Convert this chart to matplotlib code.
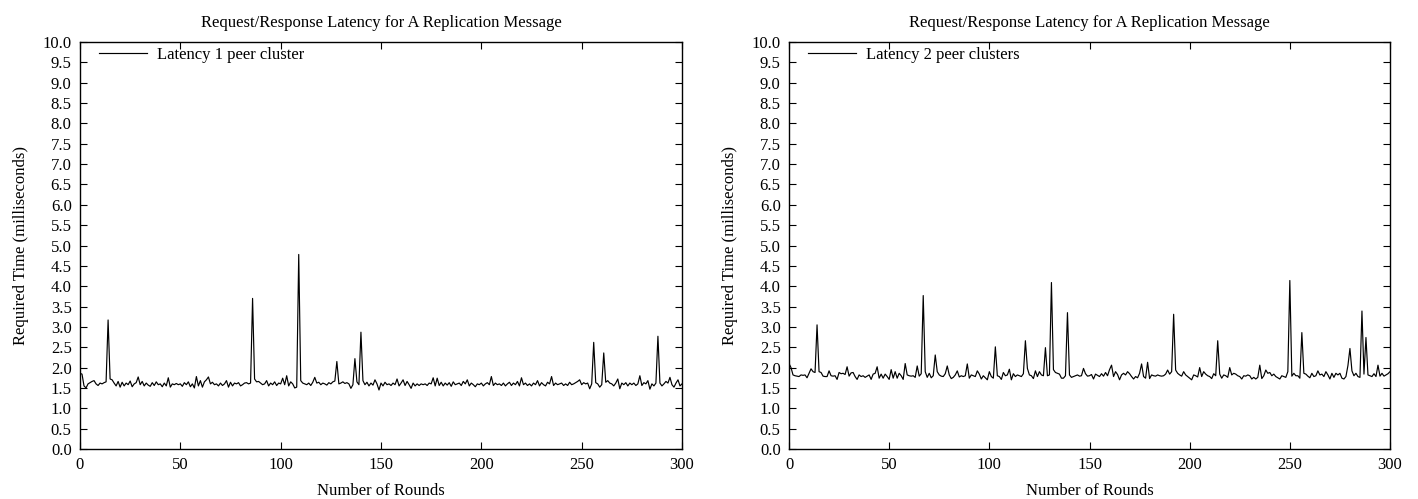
import numpy as np
import matplotlib
matplotlib.use("Agg")
import matplotlib.pyplot as plt

plt.rcParams['font.family'] = ['Liberation Serif', 'DejaVu Serif']
plt.rcParams['font.size'] = 12

title = "Request/Response Latency for A Replication Message"
xlabel = "Number of Rounds"
ylabel = "Required Time (milliseconds)"
label_1 = "Latency 1 peer cluster"
label_2 = "Latency 2 peer clusters"

# latency per round, 1 peer cluster (rounds 0..300)
lat_1 = [
    1.86, 1.84, 1.55, 1.50, 1.60, 1.63, 1.66, 1.68, 1.60, 1.56,
    1.62, 1.60, 1.63, 1.65, 3.17, 1.72, 1.70, 1.62, 1.55, 1.66,
    1.52, 1.64, 1.55, 1.62, 1.58, 1.67, 1.53, 1.60, 1.63, 1.77,
    1.58, 1.66, 1.55, 1.62, 1.57, 1.54, 1.63, 1.56, 1.65, 1.58,
    1.60, 1.53, 1.62, 1.55, 1.75, 1.52, 1.60, 1.58, 1.61, 1.58,
    1.60, 1.54, 1.63, 1.58, 1.65, 1.53, 1.60, 1.50, 1.78, 1.55,
    1.68, 1.52, 1.65, 1.70, 1.77, 1.60, 1.64, 1.58, 1.60, 1.55,
    1.62, 1.56, 1.60, 1.68, 1.52, 1.64, 1.55, 1.62, 1.60, 1.63,
    1.55, 1.58, 1.62, 1.63, 1.60, 1.62, 3.70, 1.72, 1.65, 1.66,
    1.62, 1.58, 1.60, 1.68, 1.55, 1.62, 1.58, 1.65, 1.56, 1.62,
    1.60, 1.74, 1.58, 1.80, 1.55, 1.65, 1.60, 1.50, 1.52, 4.78,
    1.68, 1.62, 1.60, 1.58, 1.62, 1.56, 1.64, 1.76, 1.62, 1.64,
    1.58, 1.62, 1.60, 1.57, 1.63, 1.60, 1.65, 1.67, 2.15, 1.60,
    1.62, 1.65, 1.61, 1.63, 1.60, 1.49, 1.58, 2.22, 1.65, 1.58,
    2.87, 1.68, 1.58, 1.64, 1.55, 1.62, 1.57, 1.70, 1.60, 1.45,
    1.62, 1.55, 1.64, 1.58, 1.60, 1.56, 1.62, 1.58, 1.72, 1.55,
    1.62, 1.70, 1.56, 1.66, 1.58, 1.49, 1.62, 1.55, 1.60, 1.56,
    1.60, 1.58, 1.60, 1.56, 1.62, 1.60, 1.75, 1.55, 1.74, 1.56,
    1.64, 1.55, 1.62, 1.57, 1.63, 1.54, 1.65, 1.58, 1.60, 1.62,
    1.56, 1.66, 1.60, 1.70, 1.55, 1.62, 1.58, 1.53, 1.60, 1.58,
    1.62, 1.55, 1.60, 1.63, 1.58, 1.78, 1.56, 1.62, 1.58, 1.60,
    1.56, 1.62, 1.55, 1.60, 1.64, 1.56, 1.62, 1.58, 1.66, 1.55,
    1.75, 1.58, 1.62, 1.56, 1.60, 1.55, 1.62, 1.58, 1.68, 1.55,
    1.63, 1.58, 1.55, 1.64, 1.60, 1.78, 1.56, 1.62, 1.58, 1.60,
    1.62, 1.56, 1.60, 1.56, 1.64, 1.58, 1.60, 1.63, 1.66, 1.70,
    1.58, 1.63, 1.60, 1.62, 1.48, 1.60, 2.62, 1.63, 1.60, 1.52,
    1.58, 2.36, 1.64, 1.68, 1.62, 1.60, 1.55, 1.62, 1.72, 1.48,
    1.62, 1.58, 1.63, 1.55, 1.62, 1.58, 1.62, 1.56, 1.60, 1.80,
    1.56, 1.63, 1.60, 1.68, 1.47, 1.60, 1.55, 1.62, 2.77, 1.62,
    1.55, 1.60, 1.66, 1.62, 1.76, 1.58, 1.52, 1.62, 1.70, 1.55,
    1.60,
]

# latency per round, 2 peer clusters (rounds 0..300)
lat_2 = [
    2.10, 2.00, 1.82, 1.80, 1.79, 1.78, 1.82, 1.81, 1.82, 1.75,
    1.86, 1.97, 1.90, 1.88, 3.05, 1.90, 1.88, 1.79, 1.78, 1.78,
    1.92, 1.80, 1.79, 1.80, 1.71, 1.88, 1.85, 1.86, 1.83, 2.02,
    1.79, 1.87, 1.88, 1.78, 1.71, 1.82, 1.78, 1.80, 1.76, 1.79,
    1.82, 1.71, 1.84, 1.86, 2.02, 1.74, 1.84, 1.74, 1.84, 1.78,
    1.71, 1.95, 1.74, 1.90, 1.74, 1.86, 1.80, 1.71, 2.10, 1.82,
    1.80, 1.79, 1.80, 1.76, 2.04, 1.79, 1.85, 3.77, 1.90, 1.76,
    1.86, 1.75, 1.80, 2.31, 1.90, 1.82, 1.79, 1.78, 1.85, 2.04,
    1.82, 1.73, 1.76, 1.82, 1.92, 1.77, 1.80, 1.78, 1.80, 2.09,
    1.74, 1.82, 1.80, 1.78, 1.92, 1.84, 1.72, 1.80, 1.75, 1.70,
    1.90, 1.78, 1.74, 2.51, 1.80, 1.78, 1.71, 1.88, 1.80, 1.82,
    1.96, 1.70, 1.85, 1.78, 1.82, 1.80, 1.78, 1.85, 2.66, 1.98,
    1.82, 1.80, 1.73, 1.92, 1.78, 1.90, 1.82, 1.80, 2.49, 1.80,
    1.82, 4.09, 1.95, 1.88, 1.86, 1.84, 1.74, 1.74, 1.80, 3.35,
    1.82, 1.76, 1.78, 1.80, 1.82, 1.79, 1.80, 1.98, 1.85, 1.79,
    1.80, 1.83, 1.72, 1.84, 1.81, 1.78, 1.85, 1.79, 1.88, 1.80,
    1.95, 2.06, 1.78, 1.90, 1.83, 1.70, 1.82, 1.86, 1.82, 1.90,
    1.85, 1.78, 1.72, 1.78, 1.75, 1.86, 2.09, 1.78, 1.74, 2.13,
    1.73, 1.82, 1.80, 1.79, 1.82, 1.80, 1.79, 1.80, 1.84, 1.94,
    1.84, 1.90, 3.31, 1.94, 1.86, 1.82, 1.79, 1.90, 1.82, 1.78,
    1.74, 1.70, 1.82, 1.80, 1.77, 2.00, 1.78, 1.90, 1.84, 1.80,
    1.78, 1.73, 1.85, 1.80, 2.66, 1.84, 1.74, 1.82, 1.80, 1.76,
    2.00, 1.82, 1.86, 1.84, 1.80, 1.78, 1.72, 1.80, 1.79, 1.82,
    1.80, 1.72, 1.76, 1.72, 1.76, 2.06, 1.73, 1.80, 1.94, 1.86,
    1.88, 1.80, 1.84, 1.78, 1.75, 1.72, 1.80, 1.78, 1.76, 1.90,
    4.14, 1.79, 1.86, 1.80, 1.80, 1.74, 2.86, 1.86, 1.84, 1.79,
    1.75, 1.86, 1.78, 1.80, 1.92, 1.82, 1.84, 1.78, 1.90, 1.82,
    1.72, 1.86, 1.76, 1.86, 1.82, 1.86, 1.74, 1.72, 1.78, 2.05,
    2.47, 1.92, 1.80, 1.86, 1.78, 1.76, 3.39, 1.84, 2.74, 1.82,
    1.80, 1.78, 1.85, 1.78, 2.06, 1.79, 1.86, 1.79, 1.82, 1.85,
    1.90,
]

rounds = np.arange(len(lat_1))

W, H = 1418, 499
fig = plt.figure(figsize=(W / 100, H / 100), dpi=100)

def panel(left_px, right_px, values, label):
    ax = fig.add_axes([left_px / W, 1 - 449 / H, (right_px - left_px) / W, (449 - 42) / H])
    ax.plot(rounds, values, color="black", lw=0.85, label=label)
    ax.set_xlim(0, 300)
    ax.set_ylim(0, 10)
    ax.set_xticks(np.arange(0, 301, 50))
    ax.set_yticks(np.arange(0, 10.01, 0.5))
    ax.yaxis.set_major_formatter(matplotlib.ticker.FormatStrFormatter('%.1f'))
    ax.tick_params(direction="in", length=5, width=0.8, top=True, right=True,
                   labelsize=12)
    ax.tick_params(axis="y", pad=6)
    ax.tick_params(axis="x", pad=6)
    for s in ax.spines.values():
        s.set_linewidth(1.0)
    ax.set_title(title, fontsize=12, pad=11)
    ax.set_xlabel(xlabel, fontsize=12, labelpad=7)
    ax.set_ylabel(ylabel, fontsize=12, labelpad=10)
    ax.legend(loc="upper left", bbox_to_anchor=(14 / 602, 1.0), frameon=False,
              borderaxespad=0, borderpad=0.3, handlelength=2.9, handletextpad=0.6,
              fontsize=12)
    return ax

panel(80, 682, lat_1, label_1)
panel(789, 1390, lat_2, label_2)

fig.savefig("out.png", dpi=100)
